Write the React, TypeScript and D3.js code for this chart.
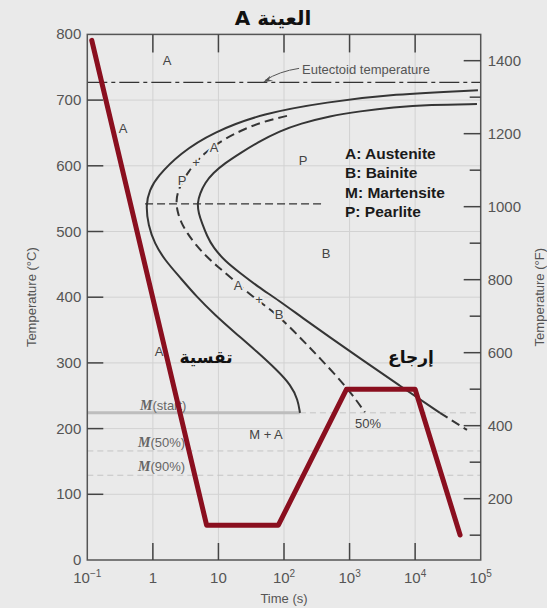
import React from "react";
import * as d3 from "d3";

const W = 547;
const H = 608;

// Axis ticks
const tempTicksC = [0, 100, 200, 300, 400, 500, 600, 700, 800];
const timeTicks = [0.1, 1, 10, 100, 1e3, 1e4, 1e5];
const timeTickBase = ["10", "1", "10", "10", "10", "10", "10"];
const timeTickExp = ["−1", "", "", "2", "3", "4", "5"];
const tempTicksF = [100, 200, 300, 400, 500, 600, 700, 800, 900, 1000, 1100, 1200, 1300, 1400];
const tempLabelsF = [200, 400, 600, 800, 1000, 1200, 1400];

// Reference temperatures (°C)
const eutectoidT = 727;
const noseT = 542;
const msStartT = 224;
const ms50T = 166;
const ms90T = 129;

// Transformation curves: [time (s), temperature (°C)]
const startCurve: [number, number][] = [
  [90800, 715], [4590, 709], [452, 697], [47.7, 680], [8.26, 651], [2.59, 619],
  [1.156, 583], [0.89, 563], [0.78, 541], [0.85, 509], [1.06, 482],
  [1.51, 457], [2.5, 432], [4.71, 400], [8.86, 373], [17.9, 346], [38.7, 317],
  [78.2, 289], [128, 266], [163, 244], [175, 224], [175, 224],
];
const endCurve: [number, number][] = [
  [87700, 694], [16800, 693], [4590, 689], [1441, 683], [502, 676], [175, 664],
  [86.9, 653], [40.1, 636], [21.3, 619], [12.6, 604], [8.26, 589], [6.24, 574],
  [5.23, 558], [4.75, 543], [5.0, 527], [5.61, 513], [6.7, 493], [8.26, 476],
  [12.6, 455], [21.3, 437], [40.1, 416], [80.9, 396], [195, 368], [502, 339],
  [1441, 307], [5870, 265], [23900, 224], [23900, 224],
];
const endCurveExt: [number, number][] = [
  [23900, 224], [61800, 198],
];
const halfCurve: [number, number][] = [
  [111, 676], [111, 676], [46.1, 667], [21.3, 653], [12.6, 641], [8.26, 629], [6.02, 618],
  [4.55, 606], [3.56, 592], [2.88, 578], [2.45, 563], [2.26, 548], [2.36, 530],
  [2.69, 514], [3.31, 498], [4.55, 479], [6.7, 461], [9.85, 446], [15, 431],
  [24.5, 412], [38.7, 396], [78.2, 374], [175, 339], [354, 307], [912, 263],
  [1714, 225], [1714, 225],
];
const noseLine: [number, number][] = [[0.76, noseT], [380, noseT]];

// Heat-treatment path (quench, hold, reheat, temper, cool)
const treatPath: [number, number][] = [
  [0.117, 791], [6.6, 53], [82, 53], [900, 260], [10000, 260], [48500, 38],
];

const BG = "#eaeaea";
const INK = "#353535";
const GRAY_TXT = "#555";
const RED = "#8a0f1f";

export default function App() {
  const x = d3.scaleLog().domain([0.1, 1e5]).range([87.3, 480.7]);
  const y = d3.scaleLinear().domain([0, 800]).range([560, 34.4]);
  const yF = (f: number) => y((f - 32) / 1.8);
  const [x0, x1] = x.range();
  const [y0, y1] = y.range();

  const smooth = d3
    .line<[number, number]>()
    .x((d) => x(d[0]))
    .y((d) => y(d[1]))
    .curve(d3.curveBasis);
  const straight = d3
    .line<[number, number]>()
    .x((d) => x(d[0]))
    .y((d) => y(d[1]));

  const gridTimes = timeTicks.slice(1, -1);
  const gridTemps = tempTicksC.slice(1, -1);

  const msEndX = x(startCurve[startCurve.length - 1][0]);

  // arrow for the eutectoid label
  const tipX = x(48);
  const tipY = y(eutectoidT);
  const arrowPath = `M${tipX + 36},${tipY - 14} Q${tipX + 16},${tipY - 11} ${tipX + 2},${tipY - 2}`;

  const onCurveLabel = {
    fontFamily: "Liberation Sans, Arial, sans-serif",
    fontSize: 13,
    fill: "#444",
    stroke: BG,
    strokeWidth: 4,
    paintOrder: "stroke",
    textAnchor: "middle" as const,
  };
  const regionLabel = {
    fontFamily: "Liberation Sans, Arial, sans-serif",
    fontSize: 13,
    fill: "#444",
    textAnchor: "middle" as const,
  };
  const mStyle = {
    fontFamily: "Liberation Serif, Times New Roman, serif",
    fontStyle: "italic",
    fontWeight: "bold" as const,
    fontSize: 14,
  };

  return (
    <div style={{ position: "fixed", left: 0, top: 0 }}>
      <svg width={W} height={H} viewBox={`0 0 ${W} ${H}`} style={{ display: "block" }}>
        <rect x={0} y={0} width={W} height={H} fill={BG} />

        {/* grid */}
        <g stroke="#d2d2d2" strokeWidth={1}>
          {gridTimes.map((t) => (
            <line key={"gx" + t} x1={x(t)} x2={x(t)} y1={y1} y2={y0} />
          ))}
          {gridTemps.map((t) => (
            <line key={"gy" + t} x1={x0} x2={x1} y1={y(t)} y2={y(t)} />
          ))}
        </g>

        {/* martensite lines */}
        <line x1={x0} x2={msEndX} y1={y(msStartT)} y2={y(msStartT)} stroke="#bdbdbd" strokeWidth={3} />
        <line x1={msEndX} x2={x1} y1={y(msStartT)} y2={y(msStartT)} stroke="#c4c4c4" strokeWidth={1} strokeDasharray="6 4" />
        <line x1={x0} x2={x1} y1={y(ms50T)} y2={y(ms50T)} stroke="#c4c4c4" strokeWidth={1} strokeDasharray="6 4" />
        <line x1={x0} x2={x1} y1={y(ms90T)} y2={y(ms90T)} stroke="#c4c4c4" strokeWidth={1} strokeDasharray="6 4" />

        {/* eutectoid temperature */}
        <line x1={x0} x2={x1} y1={y(eutectoidT)} y2={y(eutectoidT)} stroke="#333" strokeWidth={1.2} strokeDasharray="20 4 4 4" />
        <path d={arrowPath} fill="none" stroke="#555" strokeWidth={1} />
        <path d={`M${tipX},${tipY} l7,-6.5 l-1,4 l4,1 z`} fill="#555" />
        <text x={302} y={74} fontFamily="Liberation Sans, Arial, sans-serif" fontSize={13} fill={GRAY_TXT}>
          Eutectoid temperature
        </text>

        {/* nose line */}
        <path d={straight(noseLine) || ""} fill="none" stroke="#333" strokeWidth={1.2} strokeDasharray="8 4" />

        {/* transformation curves */}
        <path d={smooth(startCurve) || ""} fill="none" stroke={INK} strokeWidth={2} />
        <path d={smooth(endCurve) || ""} fill="none" stroke={INK} strokeWidth={2} />
        <path d={straight(endCurveExt) || ""} fill="none" stroke={INK} strokeWidth={2} strokeDasharray="9 5" />
        <path d={smooth(halfCurve) || ""} fill="none" stroke={INK} strokeWidth={2} strokeDasharray="9 5" />

        {/* labels on the 50% curve */}
        <text {...onCurveLabel} x={214} y={152}>A</text>
        <text {...onCurveLabel} x={196} y={167}>+</text>
        <text {...onCurveLabel} x={182} y={185}>P</text>
        <text {...onCurveLabel} x={238} y={290}>A</text>
        <text {...onCurveLabel} x={259} y={304}>+</text>
        <text {...onCurveLabel} x={279} y={319}>B</text>

        {/* phase regions */}
        <text {...regionLabel} x={167} y={65}>A</text>
        <text {...regionLabel} x={123} y={133}>A</text>
        <text {...regionLabel} x={303} y={165}>P</text>
        <text {...regionLabel} x={326} y={258}>B</text>
        <text {...regionLabel} x={159} y={356}>A</text>
        <text {...regionLabel} x={266} y={439}>M + A</text>
        <text {...regionLabel} x={368} y={428}>50%</text>

        {/* martensite labels */}
        <g fill="#666" fontSize={13} fontFamily="Liberation Sans, Arial, sans-serif">
          <text x={140} y={410}>
            <tspan {...mStyle}>M</tspan>
            <tspan>(start)</tspan>
          </text>
          <text x={138} y={447}>
            <tspan {...mStyle}>M</tspan>
            <tspan>(50%)</tspan>
          </text>
          <text x={138} y={471}>
            <tspan {...mStyle}>M</tspan>
            <tspan>(90%)</tspan>
          </text>
        </g>

        {/* legend */}
        <g fontFamily="Liberation Sans, Arial, sans-serif" fontWeight="bold" fontSize={15.5} fill="#1a1a1a">
          <text x={345} y={159}>A: Austenite</text>
          <text x={345} y={178}>B: Bainite</text>
          <text x={345} y={198}>M: Martensite</text>
          <text x={345} y={217}>P: Pearlite</text>
        </g>

        {/* heat-treatment path */}
        <path d={straight(treatPath) || ""} fill="none" stroke={RED} strokeWidth={5} strokeLinejoin="round" strokeLinecap="round" />

        {/* Arabic annotations */}
        <g fontFamily="DejaVu Sans, sans-serif" fontWeight="bold" fontSize={17} fill="#111" textAnchor="middle">
          <text x={206} y={363}>تقسية</text>
          <text x={411} y={363}>إرجاع</text>
        </g>

        {/* frame */}
        <rect x={x0} y={y1} width={x1 - x0} height={y0 - y1} fill="none" stroke="#555" strokeWidth={1.5} />

        {/* inner ticks */}
        <g stroke="#444" strokeWidth={1.5}>
          {gridTimes.map((t) => (
            <g key={"tx" + t}>
              <line x1={x(t)} x2={x(t)} y1={y0} y2={y0 - 17} />
              <line x1={x(t)} x2={x(t)} y1={y1} y2={y1 + 18} />
            </g>
          ))}
          {gridTemps.map((t) => (
            <line key={"ty" + t} x1={x0} x2={x0 + 16} y1={y(t)} y2={y(t)} />
          ))}
          {tempTicksF.map((f) => (
            <line
              key={"tf" + f}
              x1={x1}
              x2={x1 - (tempLabelsF.includes(f) ? 17 : 11)}
              y1={yF(f)}
              y2={yF(f)}
            />
          ))}
        </g>

        {/* tick labels */}
        <g fontFamily="Liberation Sans, Arial, sans-serif" fontSize={15} fill={GRAY_TXT}>
          {tempTicksC.map((t) => (
            <text key={"lc" + t} x={x0 - 6} y={y(t) + 5} textAnchor="end">{t}</text>
          ))}
          {tempLabelsF.map((f) => (
            <text key={"lf" + f} x={x1 + 7} y={yF(f) + 5}>{f}</text>
          ))}
          {timeTicks.map((t, i) => (
            <text key={"lt" + t} x={x(t)} y={583} textAnchor="middle">
              <tspan>{timeTickBase[i]}</tspan>
              {timeTickExp[i] && (
                <tspan fontSize={10} dy={-6}>{timeTickExp[i]}</tspan>
              )}
            </text>
          ))}
        </g>

        {/* axis titles */}
        <g fontFamily="Liberation Sans, Arial, sans-serif" fontSize={13} fill={GRAY_TXT} textAnchor="middle">
          <text x={(x0 + x1) / 2} y={603}>Time (s)</text>
          <text transform={`translate(36,${(y0 + y1) / 2}) rotate(-90)`}>Temperature (°C)</text>
          <text transform={`translate(544,${(y0 + y1) / 2}) rotate(-90)`}>Temperature (°F)</text>
        </g>

        {/* title */}
        <text x={273} y={25} textAnchor="middle" fontFamily="DejaVu Sans, sans-serif" fontWeight="bold" fontSize={20} fill="#111">
          A العينة
        </text>
      </svg>
    </div>
  );
}
